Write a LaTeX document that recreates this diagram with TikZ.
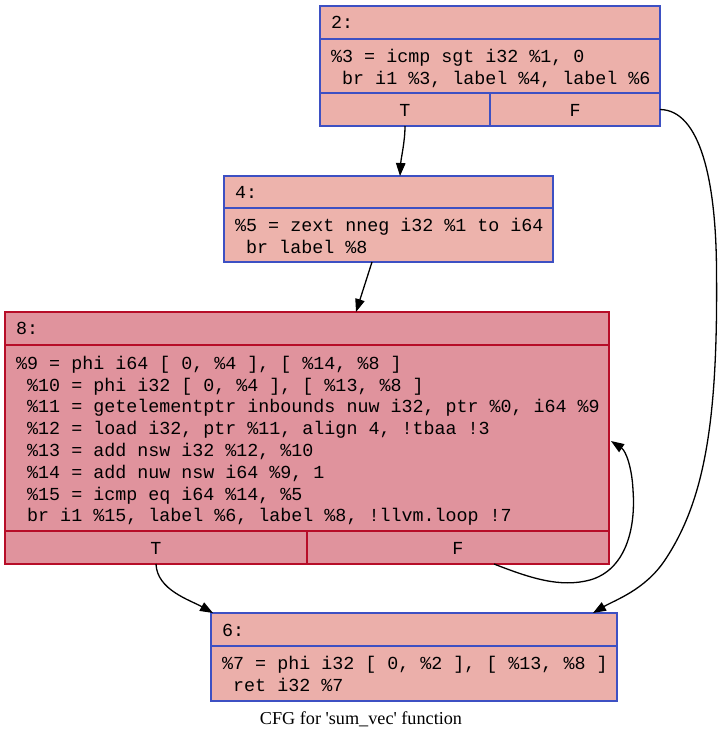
\documentclass[tikz,border=0pt]{standalone}
\usepackage{fontspec}
\usetikzlibrary{arrows.meta}
\newfontfamily\codefont[Ligatures=TeXOff]{Liberation Mono}
\newfontfamily\capfont[Ligatures=TeXOff]{Liberation Serif}
\definecolor{blueb}{HTML}{3D50C3}
\definecolor{redb}{HTML}{B70D28}
\definecolor{fillA}{HTML}{ECB0AA}
\definecolor{fillB}{HTML}{EDB3AC}
\definecolor{fillC}{HTML}{EBAFAA}
\definecolor{fillH}{HTML}{E0939D}
\tikzset{
  cell/.style={draw, line width=1.3pt, anchor=north west, inner sep=0pt, outer sep=0pt},
  coldcell/.style={cell, draw=blueb},
  hotcell/.style={cell, draw=redb, fill=fillH},
  code/.style={anchor=base west, inner sep=0pt, font=\codefont\fontsize{18.35}{21.8}\selectfont},
  porttxt/.style={anchor=base, inner sep=0pt, font=\codefont\fontsize{18.35}{21.8}\selectfont},
  flow/.style={line width=1.3pt, -{Triangle[length=13pt,width=9.5pt]}},
  caption/.style={anchor=base, inner sep=0pt, font=\capfont\fontsize{18.2}{21.8}\selectfont}
}
\frenchspacing
\begin{document}
\begin{tikzpicture}[x=1pt,y=-1pt]
\useasboundingbox (0,0) rectangle (722,739);
% block 2
\node[coldcell, fill=fillA, minimum width=340pt, minimum height=33pt] (b2h) at (320,6) {};
\node[coldcell, fill=fillA, minimum width=340pt, minimum height=54pt] (b2b) at (320,39) {};
\node[coldcell, fill=fillA, minimum width=170pt, minimum height=33pt] (b2t) at (320,93) {};
\node[coldcell, fill=fillA, minimum width=170pt, minimum height=33pt] (b2f) at (490,93) {};
\node[code] (b2ht) at (331,28.5) {2:};
\node[code] (b2l1) at (331,62.7) {\%3 = icmp sgt i32 \%1, 0};
\node[code] (b2l2) at (331,84.5) {\ br i1 \%3, label \%4, label \%6};
\node[porttxt] (b2tt) at (405,116) {T};
\node[porttxt] (b2ft) at (575,116) {F};
% block 4
\node[coldcell, fill=fillB, minimum width=329pt, minimum height=32pt] (b4h) at (224,176) {};
\node[coldcell, fill=fillB, minimum width=329pt, minimum height=54pt] (b4b) at (224,208) {};
\node[code] (b4ht) at (235,198) {4:};
\node[code] (b4l1) at (235,231.7) {\%5 = zext nneg i32 \%1 to i64};
\node[code] (b4l2) at (235,253.5) {\ br label \%8};
% block 8
\node[hotcell, minimum width=604pt, minimum height=33pt] (b8h) at (5,312) {};
\node[hotcell, minimum width=604pt, minimum height=186pt] (b8b) at (5,345) {};
\node[hotcell, minimum width=302pt, minimum height=33pt] (b8t) at (5,531) {};
\node[hotcell, minimum width=302pt, minimum height=33pt] (b8f) at (307,531) {};
\node[code] (b8ht) at (16,334) {8:};
\node[code] (b8l1) at (16,369.3) {\%9 = phi i64 [ 0, \%4 ], [ \%14, \%8 ]};
\node[code] (b8l2) at (16,391.1) {\ \%10 = phi i32 [ 0, \%4 ], [ \%13, \%8 ]};
\node[code] (b8l3) at (16,412.9) {\ \%11 = getelementptr inbounds nuw i32, ptr \%0, i64 \%9};
\node[code] (b8l4) at (16,434.7) {\ \%12 = load i32, ptr \%11, align 4, !tbaa !3};
\node[code] (b8l5) at (16,456.5) {\ \%13 = add nsw i32 \%12, \%10};
\node[code] (b8l6) at (16,478.3) {\ \%14 = add nuw nsw i64 \%9, 1};
\node[code] (b8l7) at (16,500.1) {\ \%15 = icmp eq i64 \%14, \%5};
\node[code] (b8l8) at (16,521.9) {\ br i1 \%15, label \%6, label \%8, !llvm.loop !7};
\node[porttxt] (b8tt) at (156,554) {T};
\node[porttxt] (b8ft) at (458,554) {F};
% block 6
\node[coldcell, fill=fillC, minimum width=406pt, minimum height=33pt] (b6h) at (211,613) {};
\node[coldcell, fill=fillC, minimum width=406pt, minimum height=55pt] (b6b) at (211,646) {};
\node[code] (b6ht) at (222,636) {6:};
\node[code] (b6l1) at (222,669.7) {\%7 = phi i32 [ 0, \%2 ], [ \%13, \%8 ]};
\node[code] (b6l2) at (222,691.5) {\ ret i32 \%7};
% caption
\node[caption] (cap) at (361,724) {CFG for 'sum\_vec' function};
% edges
\draw[flow] (b2t.south) .. controls (405,142) and (401,158) .. ([xshift=11.5pt]b4h.north);
\draw[flow] ([xshift=-16.5pt]b4b.south) -- ([xshift=49pt]b8h.north);
\draw[flow] (b2f.east) .. controls (700,110) and (716,180) .. (716.5,270)
  .. controls (718,420) and (705,500) .. (665,560)
  .. controls (645,590) and (615,600) .. ([xshift=179pt]b6h.north);
\draw[flow] (b8t.south) .. controls (157,590) and (190,600) .. ([xshift=-201pt]b6h.north);
\draw[flow] ([xshift=36pt]b8f.south) .. controls (530,578) and (560,588) .. (590,580)
  .. controls (625,570) and (636,530) .. (633,490)
  .. controls (632,468) and (626,451) .. ([yshift=-3pt,xshift=2pt]b8b.east);
\end{tikzpicture}
\end{document}
